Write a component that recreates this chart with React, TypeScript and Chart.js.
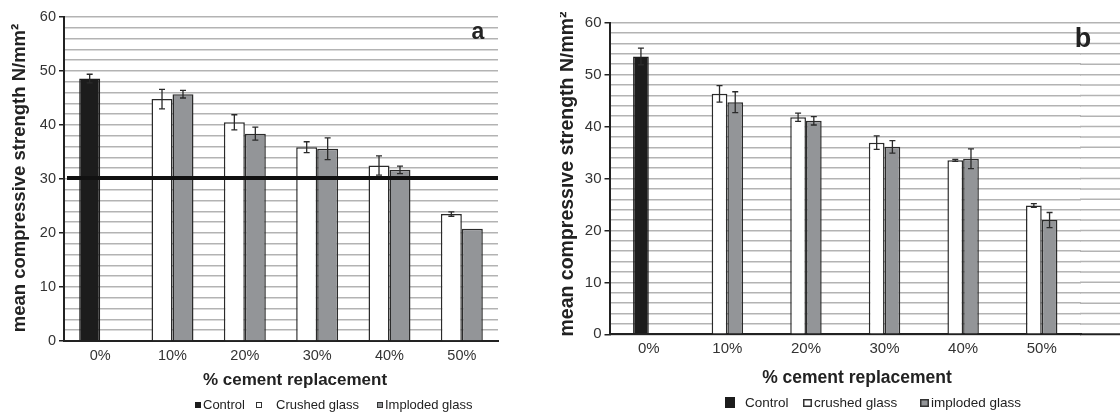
import React, { useEffect, useRef } from 'react';
import { Chart, registerables } from 'chart.js';

Chart.register(...registerables);

const categories = ['0%', '10%', '20%', '30%', '40%', '50%'];
const yLabelValues = [0, 10, 20, 30, 40, 50, 60];

// Panel a
const controlA = [48.6, null, null, null, null, null];
const crushedA = [null, 44.8, 40.5, 35.9, 32.5, 23.5];
const implodedA = [null, 45.7, 38.4, 35.6, 31.7, 20.8];
const controlErrA = [0.8, null, null, null, null, null];
const crushedErrA = [null, 1.8, 1.4, 1.0, 1.8, 0.4];
const implodedErrA = [null, 0.7, 1.2, 2.0, 0.7, null];
const thresholdA = 30.2;

// Panel b
const controlB = [53.5, null, null, null, null, null];
const crushedB = [null, 46.3, 41.8, 36.9, 33.5, 24.8];
const implodedB = [null, 44.7, 41.1, 36.1, 33.8, 22.0];
const controlErrB = [1.6, null, null, null, null, null];
const crushedErrB = [null, 1.6, 0.8, 1.3, 0.2, 0.35];
const implodedErrB = [null, 2.0, 0.8, 1.2, 1.9, 1.45];

const legendA = ['Control', 'Crushed glass', 'Imploded glass'];
const legendB = ['Control', 'crushed glass', 'imploded glass'];
const yTitle = 'mean compressive strength N/mm²';
const xTitle = '% cement replacement';

const FONT = '"Liberation Sans", Arial, sans-serif';
const GRID = '#b3b3b3';
const DARK = '#222222';
const CONTROL_COLOR = '#1c1c1c';
const CRUSHED_COLOR = '#ffffff';
const IMPLODED_COLOR = '#939598';

type PanelCfg = {
  letter: string;
  letterX: number;
  letterY: number;
  letterSize: number;
  control: (number | null)[];
  crushed: (number | null)[];
  imploded: (number | null)[];
  errs: (number | null)[][];
  threshold: number | null;
  legend: string[];
  axisLeft: number;
  top: number;
  bottom: number;
  padRight: number;
  catPct: number;
  extendGrid: boolean;
  tickSize: number;
  yTitleSize: number;
  xTitleSize: number;
  yTitleX: number;
  yTitleY: number;
  xTitleX: number;
  xTitleY: number;
  legendStyle: 'a' | 'b';
  legendY: number;
  legendX: number[];
};

const cfgA: PanelCfg = {
  letter: 'a', letterX: 478, letterY: 33, letterSize: 23,
  control: controlA, crushed: crushedA, imploded: implodedA,
  errs: [controlErrA, crushedErrA, implodedErrA],
  threshold: thresholdA,
  legend: legendA,
  axisLeft: 64, top: 17, bottom: 341, padRight: 62, catPct: 0.58,
  extendGrid: false,
  tickSize: 14.5, yTitleSize: 18.5, xTitleSize: 17,
  yTitleX: 20, yTitleY: 178, xTitleX: 295, xTitleY: 380,
  legendStyle: 'a', legendY: 405, legendX: [195, 256, 377],
};

const cfgB: PanelCfg = {
  letter: 'b', letterX: 523, letterY: 40, letterSize: 27,
  control: controlB, crushed: crushedB, imploded: implodedB,
  errs: [controlErrB, crushedErrB, implodedErrB],
  threshold: null,
  legend: legendB,
  axisLeft: 49.5, top: 22.7, bottom: 334.3, padRight: 39, catPct: 0.4,
  extendGrid: true,
  tickSize: 15, yTitleSize: 19.5, xTitleSize: 17.5,
  yTitleX: 8, yTitleY: 174, xTitleX: 297, xTitleY: 378,
  legendStyle: 'b', legendY: 403, legendX: [165, 243, 360],
};

function ChartPanel({ cfg }: { cfg: PanelCfg }) {
  const ref = useRef<HTMLCanvasElement | null>(null);
  useEffect(() => {
    if (!ref.current) return;
    const W = 560;
    const H = 415;
    const decor = {
      id: 'decor',
      beforeDatasetsDraw(chart: any) {
        if (!cfg.extendGrid) return;
        const ctx = chart.ctx;
        const y = chart.scales.y;
        const area = chart.chartArea;
        ctx.save();
        for (let v = 0; v <= 60; v += 2) {
          const py = y.getPixelForValue(v);
          ctx.beginPath();
          ctx.strokeStyle = v === 0 ? DARK : GRID;
          ctx.lineWidth = v === 0 ? 2 : 1.5;
          ctx.moveTo(area.right - 1, py);
          ctx.lineTo(W, py);
          ctx.stroke();
        }
        ctx.restore();
      },
      afterDatasetsDraw(chart: any) {
        const ctx = chart.ctx;
        const y = chart.scales.y;
        const area = chart.chartArea;
        ctx.save();
        // error bars
        chart.data.datasets.forEach((ds: any, di: number) => {
          const meta = chart.getDatasetMeta(di);
          const errs = cfg.errs[di];
          meta.data.forEach((el: any, i: number) => {
            const v = ds.data[i];
            const e = errs[i];
            if (v == null || e == null) return;
            const yt = y.getPixelForValue(v + e);
            const yb = y.getPixelForValue(v - e);
            const x = el.x;
            ctx.strokeStyle = '#2a2a2a';
            ctx.lineWidth = 1.3;
            ctx.beginPath();
            ctx.moveTo(x, yt);
            ctx.lineTo(x, yb);
            ctx.moveTo(x - 3, yt);
            ctx.lineTo(x + 3, yt);
            ctx.moveTo(x - 3, yb);
            ctx.lineTo(x + 3, yb);
            ctx.stroke();
          });
        });
        // threshold line
        if (cfg.threshold != null) {
          const py = y.getPixelForValue(cfg.threshold);
          ctx.strokeStyle = '#111';
          ctx.lineWidth = 4;
          ctx.beginPath();
          ctx.moveTo(area.left + 3, py);
          ctx.lineTo(area.right, py);
          ctx.stroke();
        }
        ctx.restore();
      },
      afterDraw(chart: any) {
        const ctx = chart.ctx;
        ctx.save();
        ctx.fillStyle = DARK;
        // panel letter
        ctx.font = `bold ${cfg.letterSize}px ${FONT}`;
        ctx.textAlign = 'center';
        ctx.textBaseline = 'middle';
        ctx.fillText(cfg.letter, cfg.letterX, cfg.letterY);
        // x title
        ctx.font = `bold ${cfg.xTitleSize}px ${FONT}`;
        ctx.fillText(xTitle, cfg.xTitleX, cfg.xTitleY);
        // y title
        ctx.save();
        ctx.translate(cfg.yTitleX, cfg.yTitleY);
        ctx.rotate(-Math.PI / 2);
        ctx.font = `bold ${cfg.yTitleSize}px ${FONT}`;
        ctx.fillText(yTitle, 0, 0);
        ctx.restore();
        // legend
        const ly = cfg.legendY;
        const colors = [CONTROL_COLOR, CRUSHED_COLOR, IMPLODED_COLOR];
        ctx.textAlign = 'left';
        ctx.font = `13px ${FONT}`;
        if (cfg.legendStyle === 'a') {
          const gaps = [8, 20, 8];
          cfg.legend.forEach((label, i) => {
            const x = cfg.legendX[i];
            ctx.fillStyle = colors[i];
            ctx.fillRect(x, ly - 3, 6, 6);
            ctx.strokeStyle = i === 0 ? CONTROL_COLOR : '#333';
            ctx.lineWidth = 1;
            ctx.strokeRect(x + 0.5, ly - 2.5, 5, 5);
            ctx.fillStyle = DARK;
            ctx.fillText(label, x + gaps[i], ly);
          });
        } else {
          ctx.font = `13.5px ${FONT}`;
          cfg.legend.forEach((label, i) => {
            const x = cfg.legendX[i];
            if (i === 0) {
              ctx.fillStyle = colors[i];
              ctx.fillRect(x, ly - 6, 10, 11);
              ctx.fillStyle = DARK;
              ctx.fillText(label, x + 20, ly);
            } else {
              ctx.fillStyle = colors[i];
              ctx.fillRect(x, ly - 4, 9, 8);
              ctx.strokeStyle = '#333';
              ctx.lineWidth = 1.5;
              ctx.strokeRect(x + 0.75, ly - 3.25, 7.5, 6.5);
              ctx.fillStyle = DARK;
              ctx.fillText(label, x + 11, ly);
            }
          });
        }
        ctx.restore();
      },
    };

    const chart = new Chart(ref.current, {
      type: 'bar',
      data: {
        labels: categories,
        datasets: [
          { label: cfg.legend[0], data: cfg.control, backgroundColor: CONTROL_COLOR, borderColor: CONTROL_COLOR, borderWidth: 1.5, stack: 's1' },
          { label: cfg.legend[1], data: cfg.crushed, backgroundColor: CRUSHED_COLOR, borderColor: '#2b2b2b', borderWidth: 1.5, stack: 's1' },
          { label: cfg.legend[2], data: cfg.imploded, backgroundColor: IMPLODED_COLOR, borderColor: '#2b2b2b', borderWidth: 1.5, stack: 's2' },
        ] as any,
      },
      options: {
        responsive: false,
        animation: false,
        layout: { padding: { top: cfg.top, right: cfg.padRight, left: 0, bottom: 0 } },
        datasets: { bar: { categoryPercentage: cfg.catPct, barPercentage: 1 } },
        plugins: { legend: { display: false }, tooltip: { enabled: false } },
        scales: {
          x: {
            stacked: true,
            grid: { display: false, drawTicks: false },
            border: { color: DARK, width: 2 },
            ticks: { font: { family: FONT, size: cfg.tickSize }, color: '#333', padding: 6 },
            afterFit: (s: any) => { s.height = H - cfg.bottom; },
          },
          y: {
            stacked: true,
            min: 0,
            max: 60,
            ticks: {
              stepSize: 2,
              autoSkip: false,
              callback: (v: any) => (yLabelValues.includes(Number(v)) ? String(v) : ''),
              font: { family: FONT, size: cfg.tickSize },
              color: '#333',
              padding: 3,
            },
            grid: {
              color: GRID,
              lineWidth: 1.5,
              tickLength: 5,
              tickWidth: 1.5,
              tickColor: (c: any) => (c.tick && yLabelValues.includes(c.tick.value) ? DARK : 'rgba(0,0,0,0)'),
            },
            border: { color: DARK, width: 2 },
            afterFit: (s: any) => { s.width = cfg.axisLeft; },
          },
        },
      } as any,
      plugins: [decor],
    });
    return () => chart.destroy();
  }, [cfg]);
  return <canvas ref={ref} width={560} height={415} style={{ display: 'block', width: 560, height: 415 }} />;
}

export default function App() {
  return (
    <div style={{ position: 'fixed', left: 0, top: 0, width: 1120, height: 415, background: '#fff', overflow: 'hidden' }}>
      <div style={{ position: 'absolute', left: 0, top: 0 }}>
        <ChartPanel cfg={cfgA} />
      </div>
      <div style={{ position: 'absolute', left: 560, top: 0 }}>
        <ChartPanel cfg={cfgB} />
      </div>
    </div>
  );
}
